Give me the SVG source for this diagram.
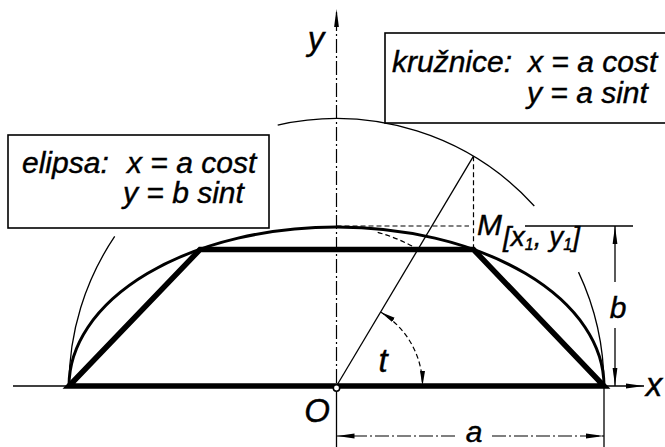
<svg xmlns="http://www.w3.org/2000/svg" width="665" height="447" viewBox="0 0 665 447">
<style>
  .txt{font-family:"Liberation Sans",Arial,sans-serif;font-style:italic;fill:#000;stroke:#000;stroke-width:0.4}
  .box{fill:#fff;stroke:#000;stroke-width:1.6}
  .thin{fill:none;stroke:#000;stroke-width:1.3}
  .dashdot{fill:none;stroke:#000;stroke-width:1.2;stroke-dasharray:14 3 2 3}
  .dash{fill:none;stroke:#000;stroke-width:1.2;stroke-dasharray:5 3}
</style>
<defs>
  <marker id="ah" viewBox="0 0 18 6" markerWidth="18" markerHeight="6" refX="18" refY="3" orient="auto-start-reverse" markerUnits="userSpaceOnUse">
    <path d="M0,0.6 L18,3 L0,5.4 Z" fill="#000"/>
  </marker>
  <marker id="ahs" viewBox="0 0 15 6" markerWidth="15" markerHeight="6" refX="15" refY="3" orient="auto-start-reverse" markerUnits="userSpaceOnUse">
    <path d="M0,0.5 L15,3 L0,5.5 Z" fill="#000"/>
  </marker>
</defs>
<rect width="665" height="447" fill="#fff"/>

<g id="curves">
  <path class="thin" d="M69,386 A267.5,267.5 0 0 1 114.7,236.4"/>
  <path class="thin" d="M277.7,125.1 A267.5,267.5 0 0 1 534.3,206"/>
  <path class="thin" d="M578.5,272.1 A267.5,267.5 0 0 1 604,386"/>
  <path fill="none" stroke="#000" stroke-width="3" d="M69,386 A267.5,159 0 0 1 604,386"/>
  <path class="dash" stroke-dasharray="4 3" d="M377.7,232.4 A159,159 0 0 1 418.1,249.5"/>
  <polygon fill="none" stroke="#000" stroke-width="5.5" stroke-linejoin="miter" points="69,386 200,249.5 473.5,249.5 604,386"/>
</g>

<g id="connectors">
  <line class="thin" x1="13" y1="386" x2="69" y2="386"/>
  <line class="thin" x1="604" y1="386" x2="644" y2="386" marker-end="url(#ah)"/>
  <line class="dashdot" x1="336.5" y1="383" x2="336.5" y2="9" marker-end="url(#ah)"/>
  <line class="thin" x1="336.5" y1="391" x2="336.5" y2="447"/>
  <line class="thin" x1="336.5" y1="386" x2="473.5" y2="156.2"/>
  <line class="dash" x1="473.5" y1="156.2" x2="473.5" y2="249.5"/>
  <line class="dash" stroke-dasharray="12 4" x1="336.5" y1="226" x2="469" y2="226"/>
  <line class="thin" x1="525" y1="226" x2="633" y2="226"/>
  <line class="thin" x1="615" y1="282" x2="615" y2="226" marker-end="url(#ah)"/>
  <line class="thin" x1="615" y1="328" x2="615" y2="386" marker-end="url(#ah)"/>
  <line class="thin" x1="604" y1="386" x2="604" y2="447"/>
  <line class="dashdot" x1="455" y1="436" x2="336.5" y2="436" marker-end="url(#ah)"/>
  <line class="dashdot" x1="492" y1="436" x2="604" y2="436" marker-end="url(#ah)"/>
  <path class="dash" d="M380.5,312.1 A86,86 0 0 1 422.5,386" marker-start="url(#ahs)" marker-end="url(#ahs)"/>
  <circle cx="336.5" cy="388" r="3.2" fill="#fff" stroke="#000" stroke-width="1.5"/>
</g>

<g id="box-elipsa">
  <rect class="box" x="8" y="135" width="261" height="93"/>
  <text class="txt" font-size="30"><tspan x="22" y="173">elipsa: </tspan><tspan x="127" y="173">x = a cost</tspan><tspan x="123" y="203">y = b sint</tspan></text>
</g>

<g id="box-kruznice">
  <rect class="box" x="385" y="33" width="290" height="90"/>
  <text class="txt" font-size="30"><tspan x="392" y="72">kružnice: </tspan><tspan x="528" y="72">x = a cost</tspan><tspan x="527" y="103">y = a sint</tspan></text>
</g>

<g id="label-y"><text class="txt" font-size="33" x="316" y="50" text-anchor="middle">y</text></g>
<g id="label-x"><text class="txt" font-size="33" x="654" y="396" text-anchor="middle">x</text></g>
<g id="label-O"><text class="txt" font-size="33" x="317" y="422" text-anchor="middle">O</text></g>
<g id="label-t"><text class="txt" font-size="33" x="383" y="372" text-anchor="middle">t</text></g>
<g id="label-b"><text class="txt" font-size="30" x="618" y="318" text-anchor="middle">b</text></g>
<g id="label-a"><text class="txt" font-size="30" x="474" y="442" text-anchor="middle">a</text></g>
<g id="label-M">
  <text class="txt" font-size="30" x="477" y="235">M<tspan font-size="28" x="503" y="246">[x</tspan><tspan font-size="16" dy="4">1</tspan><tspan font-size="28" dy="-4">, y</tspan><tspan font-size="16" dy="4">1</tspan><tspan font-size="28" dy="-4">]</tspan></text>
</g>
</svg>
